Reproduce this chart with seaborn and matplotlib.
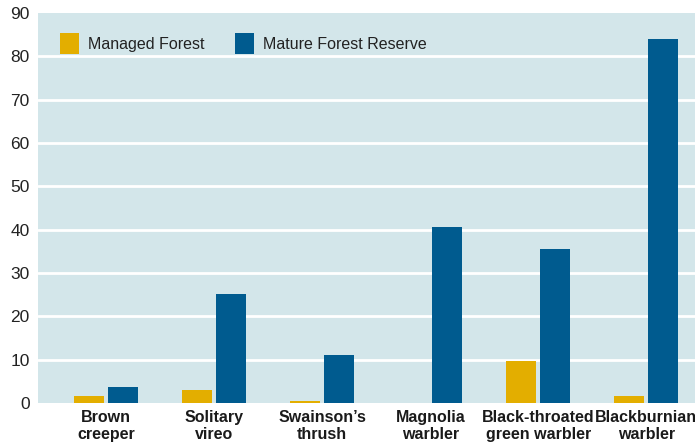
import pandas as pd
import seaborn as sns
import matplotlib.pyplot as plt

# data
species = ["Brown\ncreeper", "Solitary\nvireo", "Swainson\u2019s\nthrush",
           "Magnolia\nwarbler", "Black-throated\ngreen warbler", "Blackburnian\nwarbler"]
managed = [1.7, 3.0, 0.4, 0.0, 9.8, 1.7]
mature = [3.7, 25.2, 11.0, 40.5, 35.5, 84.0]
series = ["Managed Forest", "Mature Forest Reserve"]

col_yellow = "#e3ae00"
col_blue = "#005b8f"
col_bg = "#d3e6ea"

df = pd.DataFrame({"species": species * 2,
                   "value": managed + mature,
                   "kind": [series[0]] * len(species) + [series[1]] * len(species)})

sns.set_theme(style="white")
plt.rcParams['font.family'] = ['Liberation Sans', 'DejaVu Sans']

fig = plt.figure(figsize=(6.95, 4.42), dpi=100)
ax = fig.add_axes([38 / 695, 39 / 442, 1 - 38 / 695, 390 / 442])
ax.set_facecolor(col_bg)

sns.barplot(df, x="species", y="value", hue="kind",
            palette={series[0]: col_yellow, series[1]: col_blue},
            width=0.63, gap=0.12, saturation=1, linewidth=0, ax=ax, zorder=3)

ax.set_ylim(0, 90)
ax.set_xlim(-0.63, 5.45)
ax.set_yticks(range(0, 91, 10))
for y in range(10, 90, 10):
    ax.axhline(y, color="white", lw=2, zorder=1)
for s in ax.spines.values():
    s.set_visible(False)
ax.tick_params(axis="both", length=0)
ax.tick_params(axis="y", pad=6, labelsize=12.5, colors="#222222")
ax.tick_params(axis="x", pad=5)
ax.set_xticks(range(len(species)))
ax.set_xticklabels(species, fontsize=11.5, fontweight="bold", linespacing=1.15, color="#1a1a1a")
ax.set_xlabel("")
ax.set_ylabel("")

leg = ax.legend(title="", ncol=2, loc="upper left", bbox_to_anchor=(0.012, 0.985),
                frameon=False, fontsize=11.5, handlelength=1.2, handleheight=1.6,
                columnspacing=1.9, handletextpad=0.55)
for t in leg.get_texts():
    t.set_color("#222222")

fig.savefig("out.png", dpi=100)
